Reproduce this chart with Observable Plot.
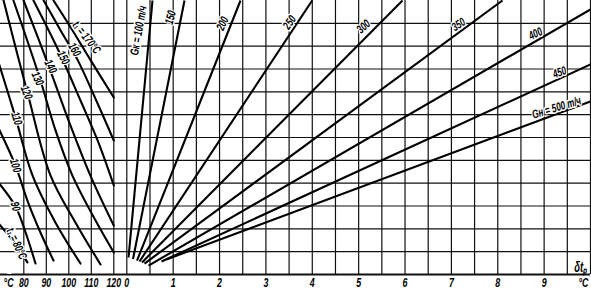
<!DOCTYPE html>
<html><head><meta charset="utf-8">
<script src="https://cdn.jsdelivr.net/npm/d3@7"></script>
<script src="https://cdn.jsdelivr.net/npm/@observablehq/plot@0.6"></script>
<style>body{margin:0;background:#fff}</style>
</head><body><div id="chart"></div>
<script>
// ---- left panel: t2 (°C) vs. row, one curve per t1 ----
const t1Values = [170, 160, 150, 140, 130, 120, 110, 100, 90, 80];
const curveT2 = [
  [93.2, 101.6, 109.6, 120],
  [88.8, 96.3, 103.9, 112.3, 120],
  [84.3, 95.4, 105.2, 112.8, 120],
  [79.9, 91.0, 99.9, 109.6, 120],
  [75.4, 87.0, 94.1, 101.6, 111.9, 120],
  [71.0, 81.6, 91.9, 103.0, 114.1],
  [68.6, 76.3, 83.9, 94.1, 105.2],
  [68.6, 76.3, 81.6, 87.4, 93.2],
  [68.6, 76.3, 80.8, 85.2],
  [68.6, 76.8, 81.6]
];
const curveRow = [
  [12, 10.7, 9.4, 7.75],
  [12, 10.7, 9.4, 7.6, 5.87],
  [12, 9.81, 7.62, 5.87, 3.9],
  [12, 9.15, 6.74, 4.33, 2.14],
  [12, 8.63, 6.31, 4.33, 2.36, 0.96],
  [12, 7.97, 4.33, 2.27, 0.44],
  [9.35, 6.88, 4.33, 2.27, 0.48],
  [6.44, 4.77, 3.24, 1.84, 0.61],
  [4.04, 2.98, 1.84, 0.48],
  [2.26, 1.27, 0.53]
];
const t1Labels = ["t\u2081 = 170°C", "160", "150", "140", "130", "120", "110", "100", "90", "t\u2081 = 80°C"];
const t1LabelT2 = [107.9, 102.5, 97.6, 91.9, 86.1, 81.2, 76.8, 76.3, 76.3, 76.8];
const t1LabelRow = [10.38, 9.85, 9.5, 9.11, 8.58, 7.97, 6.83, 4.77, 2.98, 1.35];
const t1LabelAngle = [52, 60, 62, 63, 65, 68, 72, 72, 75, 65];

// ---- right panel: δt_p (°C) vs. row, one straight line per flow G ----
const flows = [100, 150, 200, 250, 300, 350, 400, 450, 500];
const fanStartX = [0.037, 0.134, 0.22, 0.274, 0.328, 0.382, 0.468, 0.748, 0.856];
const fanStartRow = [0.745, 0.68, 0.61, 0.57, 0.53, 0.48, 0.39, 0.57, 0.66];
const fanEndX = [0.554, 1.244, 2.452, 3.998, 5.946, 8.102, 10, 10, 10];
const fanEndRow = [12, 12, 12, 12, 12, 12, 11.61, 9.2, 7.58];
const flowLabels = ["G\u043a = 100 т/ч", "150", "200", "250", "300", "350", "400", "450", "G\u043d = 500 т/ч"];
const flowLabelX = [0.252, 0.942, 2.064, 3.509, 5.105, 7.153, 8.814, 9.331, 9.267];
const flowLabelRow = [10.69, 11.26, 10.99, 11.04, 10.86, 10.95, 10.55, 8.85, 7.31];
const flowLabelAngle = [-80, -75, -65, -55, -42, -33, -25, -20, -17];

// ---- axes ----
const rightTicks = [0, 1, 2, 3, 4, 5, 6, 7, 8, 9];
const leftTicks = [80, 90, 100, 110, 120];
const rightGrid = d3.range(0, 10.001, 0.5);
const rows = d3.range(0, 12);

// left panel t2 range shares the frame with the right panel (x < 0)
const xFromT2 = d3.scaleLinear().domain([69.64, 125.78]).range([-2.724, 0]);

const curveData = t1Values.flatMap((t1, i) =>
  curveT2[i].map((t2, j) => ({t1, x: xFromT2(t2), y: curveRow[i][j]})));
const fanData = flows.map((g, i) => ({g, x1: fanStartX[i], y1: fanStartRow[i], x2: fanEndX[i], y2: fanEndRow[i]}));
const t1LabelData = t1Labels.map((s, i) => ({s, x: xFromT2(t1LabelT2[i]), y: t1LabelRow[i], a: t1LabelAngle[i]}));
const flowLabelData = flowLabels.map((s, i) => ({s, x: flowLabelX[i], y: flowLabelRow[i], a: flowLabelAngle[i]}));

const font = "'Liberation Sans', Arial, sans-serif";
const tick = {y: 0, dy: 8, fontSize: 13, fontStyle: "italic", fontWeight: "bold", rotate: 0.001};
const lab = {fontSize: 12, fontStyle: "italic", fontWeight: "bold", fill: "black", stroke: "white", strokeWidth: 3};

const chart = Plot.plot({
  width: 591, height: 290,
  marginTop: 0, marginBottom: 16, marginLeft: 0, marginRight: 1,
  x: {domain: [-2.724, 10], axis: null},
  y: {domain: [0, 12], axis: null},
  style: {fontFamily: font, background: "white", color: "black"},
  marks: [
    Plot.ruleX(rightGrid, {stroke: "#111", strokeWidth: 1.2}),
    Plot.ruleX(leftTicks, {x: d => xFromT2(d), stroke: "#111", strokeWidth: 1.2}),
    Plot.ruleY(rows, {stroke: "#111", strokeWidth: d => d === 0 ? 1.8 : 1.2}),
    Plot.line(curveData, {x: "x", y: "y", z: "t1", curve: "catmull-rom", stroke: "black", strokeWidth: 2.1, clip: true}),
    Plot.link(fanData, {x1: "x1", y1: "y1", x2: "x2", y2: "y2", stroke: "black", strokeWidth: 2.1, clip: true}),
    Plot.text(t1LabelData, {...lab, x: "x", y: "y", text: "s", rotate: "a"}),
    Plot.text(flowLabelData, {...lab, x: "x", y: "y", text: "s", rotate: "a"}),
    Plot.text(rightTicks, {...tick, x: d => d, text: d => String(d)}),
    Plot.text(leftTicks, {...tick, x: d => xFromT2(d), text: d => String(d)}),
    Plot.text(["°C"], {...tick, x: -2.55, text: d => d}),
    Plot.text(["°C"], {...tick, x: 9.849, text: d => d}),
    Plot.text(["t\u2082"], {x: -2.56, y: 0.3, text: d => d, fontSize: 15, fontStyle: "italic", fontWeight: "bold",
      rotate: 0.001, stroke: "white", strokeWidth: 2}),
    Plot.text(["\u03b4t\u209a"], {x: 9.79, y: 0.3, text: d => d, fontSize: 14, fontStyle: "italic", fontWeight: "bold", rotate: 0.001})
  ]
});
// condense glyphs horizontally (the reference uses a narrow drafting font)
chart.querySelectorAll("text").forEach(t => {
  const tr = t.getAttribute("transform");
  if (tr && !t.hasAttribute("x")) t.setAttribute("transform", tr + " scale(0.68,1)");
});
document.getElementById("chart").appendChild(chart);
</script>
</body></html>
